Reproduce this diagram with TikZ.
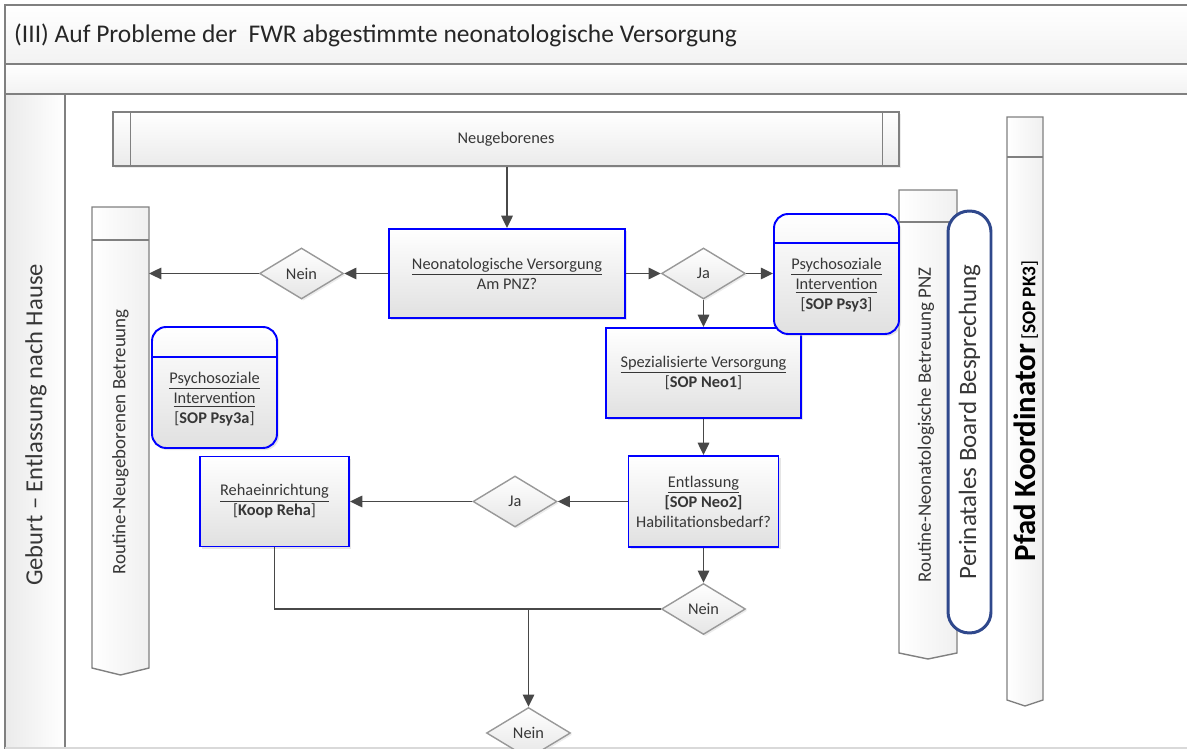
\documentclass[tikz,border=0pt]{standalone}
\usepackage{fontspec}
\setmainfont{Carlito}
\usepackage{tikz}
\usetikzlibrary{shapes.geometric,arrows.meta,shadows}
\definecolor{flowblue}{RGB}{0,0,255}
\definecolor{flowgray}{RGB}{128,128,128}
\definecolor{flowdark}{RGB}{72,72,72}
\definecolor{flowtext}{RGB}{55,55,55}
\definecolor{boardblue}{RGB}{47,72,140}

\begin{document}
\begin{tikzpicture}[x=0.02cm, y=-0.02cm,
  boxfont/.style={font=\fontsize{9.3}{11.4}\selectfont, text=flowtext},
  procbox/.style={draw=flowblue, line width=1.1pt, top color=white, bottom color=black!12,
    drop shadow={shadow xshift=1.2pt, shadow yshift=-1.2pt, fill=black!20},
    align=center, boxfont, inner sep=2pt},
  psybox/.style={procbox, rounded corners=8pt},
  decision/.style={diamond, draw=black!40, line width=0.8pt, top color=white, bottom color=black!10,
    drop shadow={shadow xshift=1pt, shadow yshift=-1pt, fill=black!15},
    minimum width=1.68cm, minimum height=1.02cm, inner sep=0pt, boxfont},
  lane/.style={draw=flowgray, line width=0.8pt, left color=white, right color=black!6},
  lanetext/.style={rotate=90, text=flowtext, inner sep=0pt},
  arr/.style={draw=flowdark, line width=1.1pt, -{Triangle[length=7pt,width=6.5pt]}},
  conn/.style={draw=flowdark, line width=1.1pt}]
\useasboundingbox (0,0) rectangle (1187,749);
\clip (0,0) rectangle (1187,749);

% Pool header and left column
\draw[flowgray, line width=0.9pt, top color=white, bottom color=black!5] (5,5) rectangle (1200,64);
\draw[flowgray, line width=0.9pt, top color=white, bottom color=black!5] (5,64) rectangle (1200,94);
\draw[flowgray, line width=0.9pt, left color=black!8, right color=white] (5,94) rectangle (65,760);
\draw[black!15, line width=0.8pt] (5,748) -- (1187,748);
\node[anchor=west, font=\fontsize{14.5}{16}\selectfont, text=black!85] (title) at (8,35)
  {(III) Auf Probleme der\ \ FWR abgestimmte neonatologische Versorgung};
\node[lanetext, font=\fontsize{14}{16}\selectfont] (phase) at (36,425) {Geburt -- Entlassung nach Hause};

% Lanes
\draw[lane] (92,207) -- (149,207) -- (149,668) -- (120.5,675) -- (92,668) -- cycle;
\draw[flowgray, line width=0.8pt] (92,240) -- (149,240);
\node[lanetext, font=\fontsize{10.8}{12}\selectfont] (rnb) at (120.5,442) {Routine-Neugeborenen Betreuung};
\coordinate (rnbR) at (149,273.5);

\draw[lane] (899,190) -- (957,190) -- (957,653) -- (928,659) -- (899,653) -- cycle;
\draw[flowgray, line width=0.8pt] (899,222) -- (957,222);
\node[lanetext, font=\fontsize{10.8}{12}\selectfont] (rnp) at (926,425) {Routine-Neonatologische Betreuung PNZ};

\draw[lane] (1007,117) -- (1043,117) -- (1043,700) -- (1025,706) -- (1007,700) -- cycle;
\draw[flowgray, line width=0.8pt] (1007,157) -- (1043,157);
\node[lanetext, text=black] (pfad) at (1026,411)
  {{\fontsize{17.5}{19}\selectfont\bfseries Pfad Koordinator} {\fontsize{11}{13}\selectfont[\textbf{SOP PK3}]}};

% Board
\node[draw=boardblue, line width=1.7pt, fill=white, rounded corners=12pt, rotate=90,
  minimum width=8.44cm, minimum height=0.86cm, text=flowtext, font=\fontsize{14.2}{16}\selectfont]
  (board) at (969.5,422) {Perinatales Board Besprechung};

% Start
\node[draw=flowgray, line width=0.8pt, top color=white, bottom color=black!8,
  drop shadow={shadow xshift=1.2pt, shadow yshift=-1.2pt, fill=black!15},
  minimum width=15.72cm, minimum height=1.08cm, boxfont] (neu) at (506,139) {Neugeborenes};
\draw[flowgray, line width=0.8pt] ([xshift=10.2pt]neu.north west) -- ([xshift=10.2pt]neu.south west);
\draw[flowgray, line width=0.8pt] ([xshift=-9.6pt]neu.north east) -- ([xshift=-9.6pt]neu.south east);

% Process steps
\node[procbox, minimum width=4.72cm, minimum height=1.78cm] (neo) at (507,273.5)
  {\underline{Neonatologische Versorgung}\\Am PNZ?};
\node[decision] (nein1) at (301.5,273.5) {Nein};
\node[decision] (ja1) at (703.5,273.5) {Ja};
\node[procbox, minimum width=3.9cm, minimum height=1.8cm] (spez) at (703.5,373)
  {\underline{Spezialisierte Versorgung}\\{[}\textbf{SOP Neo1}{]}};
\node[psybox, minimum width=2.5cm, minimum height=2.4cm] (psy3) at (836.5,274) {};
\draw[flowblue, line width=1.1pt] ([yshift=-17pt]psy3.north west) -- ([yshift=-17pt]psy3.north east);
\node[align=center, boxfont] (psy3t) at (836.5,285)
  {\underline{Psychosoziale}\\\underline{Intervention}\\{[}\textbf{SOP Psy3}{]}};
\node[psybox, minimum width=2.5cm, minimum height=2.42cm] (psy3a) at (214.5,387.5) {};
\draw[flowblue, line width=1.1pt] ([yshift=-17.5pt]psy3a.north west) -- ([yshift=-17.5pt]psy3a.north east);
\node[align=center, boxfont] (psy3at) at (214.5,399)
  {\underline{Psychosoziale}\\\underline{Intervention}\\{[}\textbf{SOP Psy3a}{]}};
\node[procbox, minimum width=3.0cm, minimum height=1.82cm] (entl) at (703.5,501.5)
  {\underline{Entlassung}\\\textbf{[SOP Neo2]}\\Habilitationsbedarf?};
\node[decision] (ja2) at (515,501.5) {Ja};
\node[procbox, minimum width=2.98cm, minimum height=1.8cm] (reha) at (274.5,501.5)
  {\underline{Rehaeinrichtung}\\{[}\textbf{Koop Reha}{]}};
\node[decision] (nein2) at (703.5,609) {Nein};
\node[decision] (nein3) at (528.5,733) {Nein};

% Connectors
\draw[arr] (neu.south -| neo.north) -- (neo.north);
\draw[arr] (neo.west) -- (nein1.east);
\draw[arr] (nein1.west) -- (rnbR);
\draw[arr] (neo.east) -- (ja1.west);
\draw[arr] (ja1.east) -- (ja1.east -| psy3.west);
\draw[arr] (ja1.south) -- (spez.north);
\draw[arr] (spez.south) -- (entl.north);
\draw[arr] (entl.west) -- (ja2.east);
\draw[arr] (ja2.west) -- (reha.east);
\draw[arr] (entl.south) -- (nein2.north);
\draw[conn] (reha.south) |- (nein2.west);
\draw[arr] (nein3.north |- nein2.west) -- (nein3.north);
\end{tikzpicture}
\end{document}
